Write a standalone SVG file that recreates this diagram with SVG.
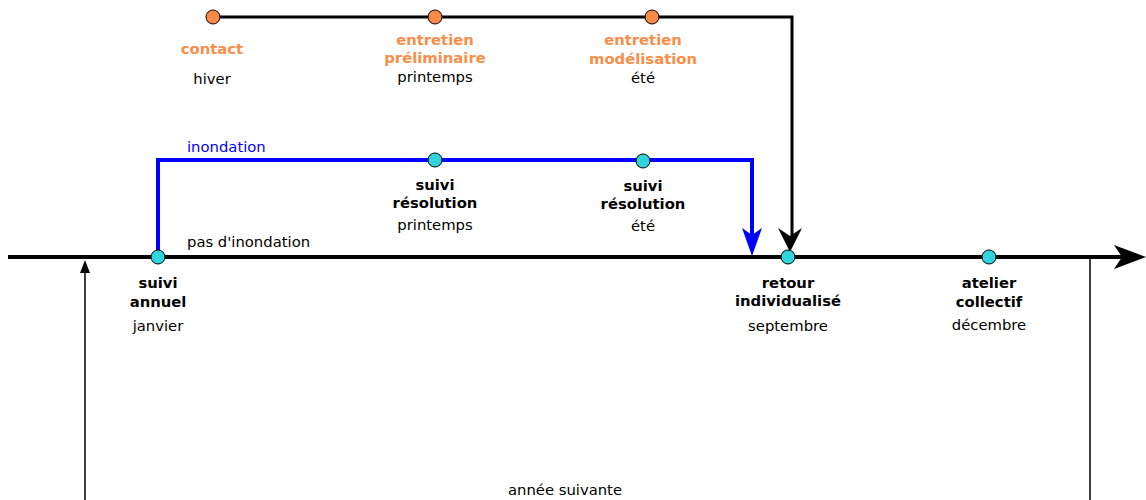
<svg xmlns="http://www.w3.org/2000/svg" width="1146" height="500" viewBox="0 0 1146 500">
<style>
text{font-family:"DejaVu Sans",sans-serif;font-size:14.8px;text-anchor:middle;fill:#000}
.b{font-weight:bold}
.o{fill:#f98e48}
.bl{fill:#0000ff;text-anchor:start}
.s{text-anchor:start}
.cy{fill:#2fd4dc;stroke:#000;stroke-width:1}
.or{fill:#f88a48;stroke:#000;stroke-width:1}
</style>
<g id="connectors" fill="none">
<line x1="8" y1="257" x2="1130" y2="257" stroke="#000" stroke-width="4"/>
<path d="M1114,245 L1146,257 L1114,269 L1122,257 Z" fill="#000"/>
<polyline points="213,17 792,17 792,240" stroke="#000" stroke-width="3"/>
<path d="M778,228 L790,252 L802,228 L790,236 Z" fill="#000"/>
<polyline points="158,257 158,160 752,160 752,236" stroke="#0000ff" stroke-width="4"/>
<path d="M742,228 L752,256 L762,228 L752,235 Z" fill="#0000ff"/>
<line x1="85" y1="500" x2="85" y2="270" stroke="#000" stroke-width="1.5"/>
<path d="M80,273 L85,260 L90,273 Z" fill="#000"/>
<line x1="1090" y1="258" x2="1090" y2="500" stroke="#000" stroke-width="1.5"/>
</g>
<g id="contact"><circle class="or" cx="213" cy="17" r="7"/><text class="b o" x="212" y="54">contact</text><text x="212" y="84">hiver</text></g>
<g id="entretien-preliminaire"><circle class="or" cx="435" cy="17" r="7"/><text class="b o" x="435" y="45">entretien</text><text class="b o" x="435" y="63">préliminaire</text><text x="435" y="82">printemps</text></g>
<g id="entretien-modelisation"><circle class="or" cx="652" cy="17" r="7"/><text class="b o" x="643" y="45">entretien</text><text class="b o" x="643" y="64">modélisation</text><text x="643" y="83">été</text></g>
<g id="inondation-label"><text class="bl" x="187" y="152">inondation</text></g>
<g id="pas-inondation-label"><text class="s" x="187" y="247">pas d'inondation</text></g>
<g id="suivi-resolution-printemps"><circle class="cy" cx="435" cy="160" r="7"/><text class="b" x="435" y="190">suivi</text><text class="b" x="435" y="208">résolution</text><text x="435" y="230">printemps</text></g>
<g id="suivi-resolution-ete"><circle class="cy" cx="643" cy="161" r="7"/><text class="b" x="643" y="191">suivi</text><text class="b" x="643" y="209">résolution</text><text x="643" y="231">été</text></g>
<g id="suivi-annuel"><circle class="cy" cx="158" cy="257" r="7"/><text class="b" x="158" y="288">suivi</text><text class="b" x="158" y="307">annuel</text><text x="158" y="331">janvier</text></g>
<g id="retour-individualise"><circle class="cy" cx="788" cy="257" r="7"/><text class="b" x="788" y="288">retour</text><text class="b" x="788" y="306">individualisé</text><text x="788" y="331">septembre</text></g>
<g id="atelier-collectif"><circle class="cy" cx="989" cy="257" r="7"/><text class="b" x="989" y="288">atelier</text><text class="b" x="989" y="307">collectif</text><text x="989" y="330">décembre</text></g>
<g id="annee-suivante"><text x="565" y="495">année suivante</text></g>
</svg>
